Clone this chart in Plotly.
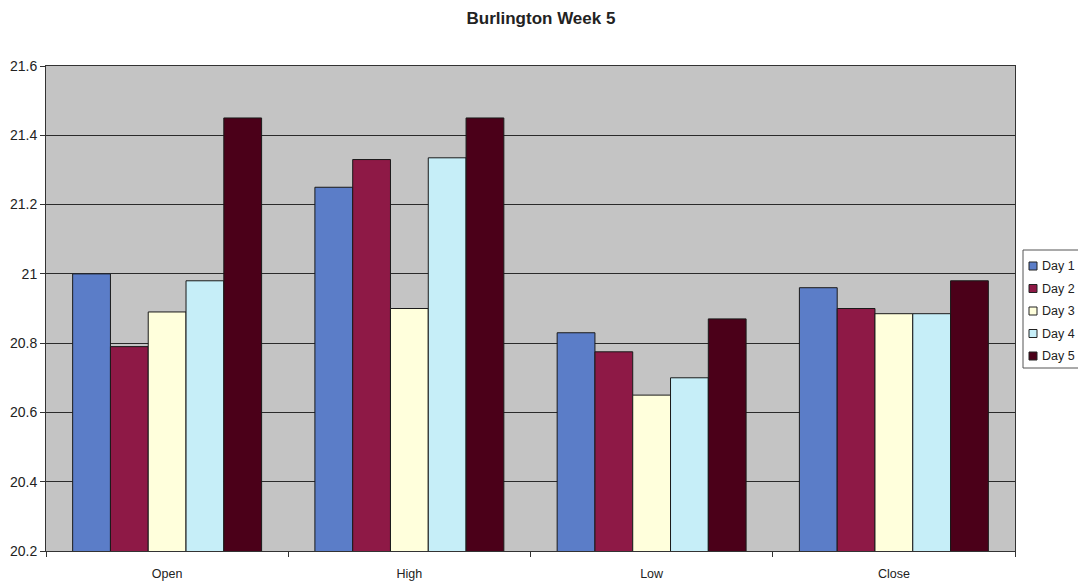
import plotly.graph_objects as go

categories = ["Open", "High", "Low", "Close"]
series_names = ["Day 1", "Day 2", "Day 3", "Day 4", "Day 5"]
day1 = [21.00, 21.25, 20.83, 20.96]
day2 = [20.79, 21.33, 20.775, 20.90]
day3 = [20.89, 20.90, 20.65, 20.885]
day4 = [20.98, 21.335, 20.70, 20.885]
day5 = [21.45, 21.45, 20.87, 20.98]
colors = ["#5B7DC8", "#8E1946", "#FFFFDC", "#C6EEF8", "#4B0019"]

values = [day1, day2, day3, day4, day5]

W, H = 1078, 575
ML, MR, MT, MB = 38, 71, 58, 32
PW, PH = W - ML - MR, H - MT - MB


def px(x):
    return (x - ML) / PW


def py(y):
    return (H - MB - y) / PH


fig = go.Figure()
for name, vals, col in zip(series_names, values, colors):
    fig.add_trace(go.Bar(
        x=categories, y=vals, name=name, showlegend=False,
        marker=dict(color=col, line=dict(color="#1a1a1a", width=1)),
    ))

font_family = "Liberation Sans, Arial, sans-serif"

# custom compact legend (Excel-style)
shapes = [dict(type="rect", xref="paper", yref="paper",
               x0=px(1015), x1=px(1075), y0=py(242), y1=py(360),
               line=dict(color="#555", width=1), fillcolor="white", layer="above")]
annotations = []
row0, step = 258, 22.5
for i, (name, col) in enumerate(zip(series_names, colors)):
    cy = row0 + i * step
    shapes.append(dict(type="rect", xref="paper", yref="paper",
                       x0=px(1021), x1=px(1029), y0=py(cy + 4), y1=py(cy - 4),
                       line=dict(color="#222", width=1), fillcolor=col, layer="above"))
    annotations.append(dict(x=px(1032), y=py(cy), xref="paper", yref="paper",
                            text=name, showarrow=False, xanchor="left", yanchor="middle",
                            font=dict(family=font_family, size=12.5, color="#222")))

fig.update_layout(
    width=W, height=H,
    margin=dict(l=ML, r=MR, t=MT, b=MB, autoexpand=False),
    paper_bgcolor="white",
    plot_bgcolor="#C4C4C4",
    barmode="group",
    bargap=0.22,
    bargroupgap=0,
    title=dict(text="<b>Burlington Week 5</b>", x=0.4944, xref="container", xanchor="center",
               y=0.9817, yref="container", yanchor="middle",
               font=dict(family=font_family, size=17, color="#222")),
    font=dict(family=font_family, size=12, color="#222"),
    showlegend=False,
    shapes=shapes,
    annotations=annotations,
)
fig.update_xaxes(
    showline=True, linecolor="#333", linewidth=1, mirror=True,
    ticks="outside", tickson="boundaries", ticklen=5, tickcolor="#333",
    tickfont=dict(size=12.5), ticklabelstandoff=11,
)
fig.update_yaxes(
    range=[20.2, 21.6], dtick=0.2, tick0=20.2,
    showline=True, linecolor="#333", linewidth=1, mirror=True,
    ticks="outside", ticklen=5, tickcolor="#333",
    showgrid=True, gridcolor="#2a2a2a", gridwidth=1,
    tickfont=dict(size=14),
)

fig.write_html("out.html")
